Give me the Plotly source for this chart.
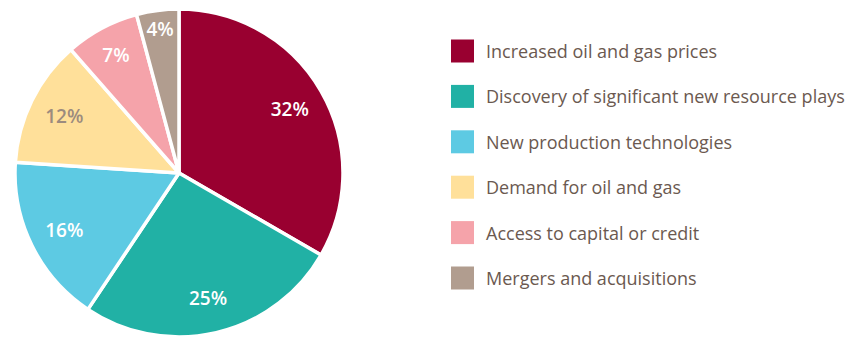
import plotly.graph_objects as go

# Survey shares (percent) of drivers behind industry growth
categories = [
    "Increased oil and gas prices",
    "Discovery of significant new resource plays",
    "New production technologies",
    "Demand for oil and gas",
    "Access to capital or credit",
    "Mergers and acquisitions",
]
shares = [32, 25, 16, 12, 7, 4]
slice_colors = ["#990030", "#21B1A5", "#5DCAE3", "#FFE09A", "#F5A3AA", "#B19D8F"]
label_colors = ["#FFFFFF", "#FFFFFF", "#FFFFFF", "#9C8B7E", "#FFFFFF", "#FFFFFF"]

W, H = 858, 337
TOP = 9
PLOT_H = H - TOP
FONT = "Open Sans"
LEGEND_TEXT = "#6B5950"

pie_domain = dict(x=[(179 - 164) / W, (179 + 164) / W], y=[0, 1])

fig = go.Figure()

# Solid pie with white separators
fig.add_trace(go.Pie(
    labels=categories,
    values=shares,
    sort=False,
    direction="clockwise",
    rotation=0,
    marker=dict(colors=slice_colors, line=dict(color="#FFFFFF", width=3.5)),
    textinfo="none",
    hoverinfo="label+value",
    showlegend=False,
    domain=pie_domain,
))

# Transparent ring on top carrying the percentage labels toward the rim
fig.add_trace(go.Pie(
    labels=categories,
    values=shares,
    sort=False,
    direction="clockwise",
    rotation=0,
    hole=0.56,
    marker=dict(colors=["rgba(0,0,0,0)"] * len(shares), line=dict(width=0)),
    texttemplate="%{value}%",
    textposition="inside",
    insidetextorientation="horizontal",
    textfont=dict(family=FONT, size=19, color=label_colors, weight=600),
    hoverinfo="skip",
    showlegend=False,
    domain=pie_domain,
))

# Legend: square swatch plus label per category
row_top = 51
row_gap = 45.4
for i, (name, col) in enumerate(zip(categories, slice_colors)):
    yc = row_top + i * row_gap
    fig.add_shape(
        type="rect", xref="paper", yref="paper",
        x0=451 / W, x1=474 / W,
        y0=1 - (yc - 11.5 - TOP) / PLOT_H, y1=1 - (yc + 11.5 - TOP) / PLOT_H,
        fillcolor=col, line=dict(width=0),
    )
    fig.add_annotation(
        x=484 / W, y=1 - (yc - TOP) / PLOT_H, xref="paper", yref="paper",
        text=name, showarrow=False, xanchor="left", yanchor="middle",
        font=dict(family=FONT, size=18, color=LEGEND_TEXT),
    )

fig.update_layout(
    width=W, height=H,
    margin=dict(l=0, r=0, t=TOP, b=0),
    paper_bgcolor="#FFFFFF",
    plot_bgcolor="#FFFFFF",
    uniformtext=dict(minsize=19, mode="show"),
)

fig.write_html("out.html")
